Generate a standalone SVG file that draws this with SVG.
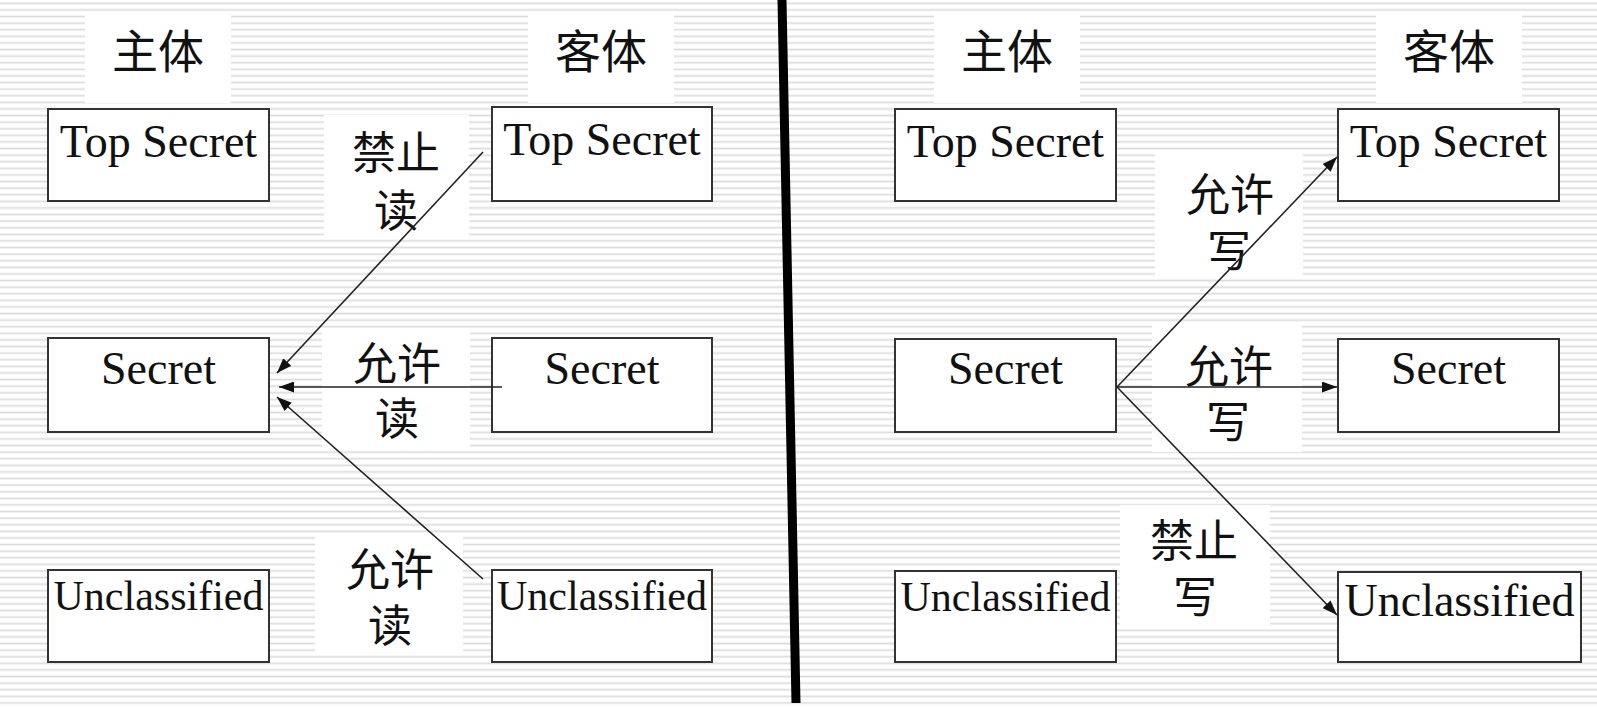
<svg xmlns="http://www.w3.org/2000/svg" width="1597" height="707" viewBox="0 0 1597 707">
<defs>
<pattern id="stripes" patternUnits="userSpaceOnUse" width="20" height="6.6">
<rect x="0" y="0" width="20" height="6.6" fill="#ffffff"/>
<rect x="0" y="2.5" width="20" height="1.7" fill="#dcdcdc"/>
</pattern>
<marker id="ah" markerUnits="userSpaceOnUse" markerWidth="15" markerHeight="11" refX="15" refY="5.5" orient="auto">
<path d="M0,0 L15,5.5 L0,11 z" fill="#111"/>
</marker>
<style>
.box{fill:#ffffff;stroke:#333333;stroke-width:2}
.t{font-family:"Liberation Serif","Times New Roman",serif;font-size:46px;fill:#111;text-anchor:middle}
.ts{font-size:42px}
.c{font-family:"Liberation Serif","Noto Sans CJK SC",serif;font-size:44px;fill:#111;text-anchor:middle}
.h{font-size:46px}
.bg{fill:#ffffff}
.cn{stroke:#222;stroke-width:1.6;fill:none;marker-end:url(#ah)}
</style>
</defs>
<rect x="0" y="0" width="1597" height="707" fill="url(#stripes)"/>

<g id="headings">
<rect class="bg" x="85" y="13" width="146" height="90"/>
<text class="c h" x="158" y="68">主体</text>
<rect class="bg" x="528" y="13" width="146" height="90"/>
<text class="c h" x="601" y="68">客体</text>
<rect class="bg" x="934" y="13" width="146" height="90"/>
<text class="c h" x="1007" y="68">主体</text>
<rect class="bg" x="1376" y="13" width="146" height="90"/>
<text class="c h" x="1449" y="68">客体</text>
</g>

<g id="labels">
<rect class="bg" x="324" y="115" width="145" height="124"/>
<text class="c" x="396" y="169">禁止</text>
<text class="c" x="396" y="227">读</text>
<rect class="bg" x="322" y="330" width="148" height="120"/>
<text class="c" x="397" y="380">允许</text>
<text class="c" x="397" y="435">读</text>
<rect class="bg" x="315" y="533" width="148" height="122"/>
<text class="c" x="390" y="586">允许</text>
<text class="c" x="390" y="642">读</text>
<rect class="bg" x="1155" y="153" width="148" height="125"/>
<text class="c" x="1230" y="211">允许</text>
<text class="c" x="1229" y="267">写</text>
<rect class="bg" x="1152" y="322" width="150" height="130"/>
<text class="c" x="1229" y="383">允许</text>
<text class="c" x="1228" y="438">写</text>
<rect class="bg" x="1120" y="505" width="150" height="123"/>
<text class="c" x="1194" y="557">禁止</text>
<text class="c" x="1195" y="613">写</text>
</g>

<g id="divider">
<line x1="782" y1="0" x2="796" y2="703" stroke="#000" stroke-width="9"/>
</g>

<g id="L-subj-ts"><rect class="box" x="48" y="109" width="221" height="92"/><text class="t" x="158.5" y="157">Top Secret</text></g>
<g id="L-subj-s"><rect class="box" x="48" y="338" width="221" height="94"/><text class="t" x="158.5" y="384">Secret</text></g>
<g id="L-subj-u"><rect class="box" x="48" y="570" width="221" height="92"/><text class="t ts" x="158.5" y="610">Unclassified</text></g>

<g id="L-obj-ts"><rect class="box" x="492" y="107" width="220" height="94"/><text class="t" x="602" y="155">Top Secret</text></g>
<g id="L-obj-s"><rect class="box" x="492" y="338" width="220" height="94"/><text class="t" x="602" y="384">Secret</text></g>
<g id="L-obj-u"><rect class="box" x="492" y="570" width="220" height="92"/><text class="t ts" x="602" y="610">Unclassified</text></g>

<g id="R-subj-ts"><rect class="box" x="895" y="109" width="221" height="92"/><text class="t" x="1005.5" y="157">Top Secret</text></g>
<g id="R-subj-s"><rect class="box" x="895" y="339" width="221" height="93"/><text class="t" x="1005.5" y="384">Secret</text></g>
<g id="R-subj-u"><rect class="box" x="895" y="571" width="221" height="91"/><text class="t ts" x="1005.5" y="611">Unclassified</text></g>

<g id="R-obj-ts"><rect class="box" x="1338" y="109" width="221" height="92"/><text class="t" x="1448.5" y="157">Top Secret</text></g>
<g id="R-obj-s"><rect class="box" x="1338" y="339" width="221" height="93"/><text class="t" x="1448.5" y="384">Secret</text></g>
<g id="R-obj-u"><rect class="box" x="1338" y="572" width="243" height="90"/><text class="t" x="1459.5" y="616">Unclassified</text></g>

<g id="connectors">
<line class="cn" x1="483" y1="152" x2="277" y2="373"/>
<line class="cn" x1="502" y1="387" x2="279" y2="387"/>
<line class="cn" x1="483" y1="579" x2="277" y2="397"/>
<line class="cn" x1="1117" y1="387" x2="1337" y2="157"/>
<line class="cn" x1="1117" y1="387" x2="1337" y2="387"/>
<line class="cn" x1="1117" y1="387" x2="1337" y2="615"/>
</g>
</svg>
